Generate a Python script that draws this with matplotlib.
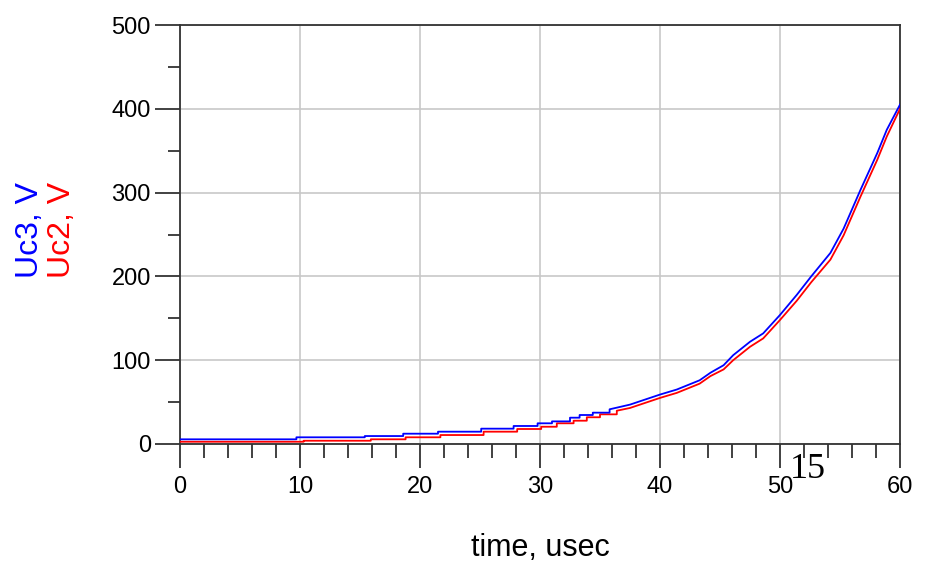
import numpy as np
import matplotlib
matplotlib.use("Agg")
import matplotlib.pyplot as plt
from matplotlib.ticker import MultipleLocator

plt.rcParams["font.family"] = ["Liberation Sans", "DejaVu Sans"]

# Uc3 (blue): step corners early, then read-off points along the curve
uc3_t = [0, 9.7, 9.7, 15.4, 15.4, 18.6, 18.6, 21.5, 21.5, 25.1, 25.1, 27.8, 27.8, 29.8, 29.8,
         31.0, 31.0, 32.5, 32.5, 33.3, 33.3, 34.4, 34.4, 35.8, 35.8, 37.5, 40.0, 41.4, 43.3,
         44.2, 45.3, 46.1, 47.5, 48.6, 50.0, 51.4, 52.6, 54.2, 55.3, 56.7, 58.1, 58.9, 60.0]
uc3_v = [5.6, 5.6, 8.0, 8.0, 9.5, 9.5, 12.3, 12.3, 14.7, 14.7, 18.3, 18.3, 21.5, 21.5, 24.7,
         24.7, 27.0, 27.0, 31.4, 31.4, 34.6, 34.6, 37.4, 37.4, 41.4, 47.0, 59.0, 65.0, 76.0,
         85.0, 94.0, 106.0, 122.0, 132.0, 154.0, 178.0, 200.0, 228.0, 257.0, 303.0, 347.0, 375.0, 405.0]

# Uc2 (red)
uc2_t = [0, 10.3, 10.3, 15.9, 15.9, 18.8, 18.8, 21.7, 21.7, 25.3, 25.3, 28.1, 28.1, 30.1, 30.1,
         31.4, 31.4, 32.8, 32.8, 33.9, 33.9, 35.0, 35.0, 36.4, 36.4, 37.5, 40.0, 41.4, 43.3,
         44.2, 45.3, 46.1, 47.5, 48.6, 50.0, 51.4, 52.6, 54.2, 55.3, 56.7, 58.1, 58.9, 60.0]
uc2_v = [2.7, 2.7, 3.9, 3.9, 5.6, 5.6, 8.0, 8.0, 10.7, 10.7, 14.7, 14.7, 17.9, 17.9, 20.6,
         20.6, 24.7, 24.7, 27.8, 27.8, 31.9, 31.9, 35.4, 35.4, 39.7, 43.0, 55.0, 61.0, 72.0,
         81.0, 89.0, 100.0, 116.0, 126.0, 148.0, 171.0, 193.0, 220.0, 249.0, 295.0, 339.0, 367.0, 400.0]

fig = plt.figure(figsize=(9.28, 5.65), dpi=100)
ax = fig.add_axes([180 / 928, 1 - 444 / 565, 720 / 928, 419 / 565])

ax.plot(uc2_t, uc2_v, color="#ff0000", lw=1.3, zorder=3)
ax.plot(uc3_t, uc3_v, color="#0000ff", lw=1.3, zorder=4)

ax.set_xlim(0, 60)
ax.set_ylim(0, 500)
ax.xaxis.set_major_locator(MultipleLocator(10))
ax.xaxis.set_minor_locator(MultipleLocator(2))
ax.yaxis.set_major_locator(MultipleLocator(100))
ax.yaxis.set_minor_locator(MultipleLocator(50))
ax.grid(True, which="major", color="#c8c8c8", lw=1.2)
ax.set_axisbelow(True)

for s in ax.spines.values():
    s.set_color("#333333")
    s.set_linewidth(1.3)

ax.tick_params(axis="y", which="major", direction="out", length=18, width=1.3,
               color="#333333", labelsize=17, pad=3)
ax.tick_params(axis="y", which="minor", direction="out", length=9, width=1.3, color="#333333")
ax.tick_params(axis="x", which="major", direction="out", length=17, width=1.3,
               color="#333333", labelsize=17, pad=6)
ax.tick_params(axis="x", which="minor", direction="out", length=10, width=1.3, color="#333333")

fig.text(540 / 928, 1 - 548 / 565, "time, usec", fontsize=22, ha="center", va="center")

fig.text(30 / 928, 1 - 230 / 565, "Uc3, V", color="#0000ff", fontsize=23,
         rotation=90, ha="center", va="center")
fig.text(62 / 928, 1 - 230 / 565, "Uc2, V", color="#ff0000", fontsize=23,
         rotation=90, ha="center", va="center")

fig.text(808 / 928, 1 - 469 / 565, "15", fontsize=26, color="black",
         family=["Liberation Serif", "DejaVu Serif"], ha="center", va="center")

fig.savefig("out.png", dpi=100)
